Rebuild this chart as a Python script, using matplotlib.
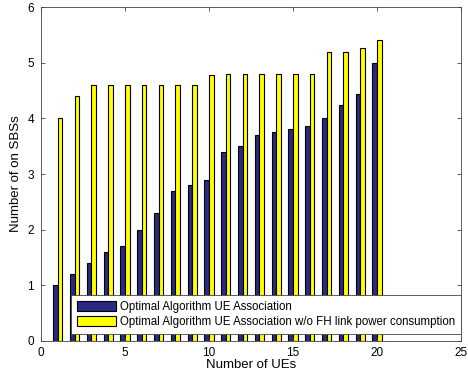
import numpy as np
import matplotlib.pyplot as plt
from matplotlib.ticker import MultipleLocator

plt.rcParams['font.family'] = ['Liberation Sans', 'DejaVu Sans']

# number of UEs on the x axis
num_ues = list(range(1, 21))
# number of active small base stations
sbs_optimal = [1.0, 1.2, 1.4, 1.6, 1.7, 2.0, 2.3, 2.7, 2.8, 2.9,
               3.4, 3.5, 3.7, 3.75, 3.8, 3.87, 4.0, 4.24, 4.44, 5.0]
sbs_no_fh = [4.0, 4.4, 4.6, 4.6, 4.6, 4.6, 4.6, 4.6, 4.6, 4.78,
             4.8, 4.8, 4.8, 4.8, 4.8, 4.8, 5.2, 5.2, 5.27, 5.4]
series_labels = ['Optimal Algorithm UE Association',
                 'Optimal Algorithm UE Association w/o FH link power consumption']

fig = plt.figure(figsize=(4.68, 3.73), dpi=100)
ax = fig.add_axes([0.0876, 0.0858, 0.8974, 0.8953])

x = np.array(num_ues)
w = 0.27
ax.bar(x - w / 2, sbs_optimal, width=w, color='#2b2a80', edgecolor='black',
       linewidth=0.8, label=series_labels[0])
ax.bar(x + w / 2, sbs_no_fh, width=w, color='#ffff00', edgecolor='black',
       linewidth=0.8, label=series_labels[1])

ax.set_xlim(0, 25)
ax.set_ylim(0, 6)
ax.xaxis.set_major_locator(MultipleLocator(5))
ax.yaxis.set_major_locator(MultipleLocator(1))
ax.tick_params(direction='in', top=True, right=True, labelsize=8.5,
               length=3, width=0.6, color='#444444')
ax.tick_params(axis='x', pad=4)
ax.tick_params(axis='y', pad=5)
for s in ax.spines.values():
    s.set_linewidth(0.6)
    s.set_color('#444444')

ax.set_xlabel('Number of UEs', fontsize=9.5, labelpad=0.5)
ax.set_ylabel('Number of on SBSs', fontsize=9.5, labelpad=4)

leg = ax.legend(loc='lower right', bbox_to_anchor=(1.0, 0.021), fontsize=8.3,
                fancybox=False, framealpha=1, edgecolor='#444444',
                handlelength=3.4, handleheight=0.95, handletextpad=0.35,
                borderpad=0.5, labelspacing=0.3, borderaxespad=0)
leg.get_frame().set_linewidth(0.6)

fig.savefig('out.png', dpi=100)
